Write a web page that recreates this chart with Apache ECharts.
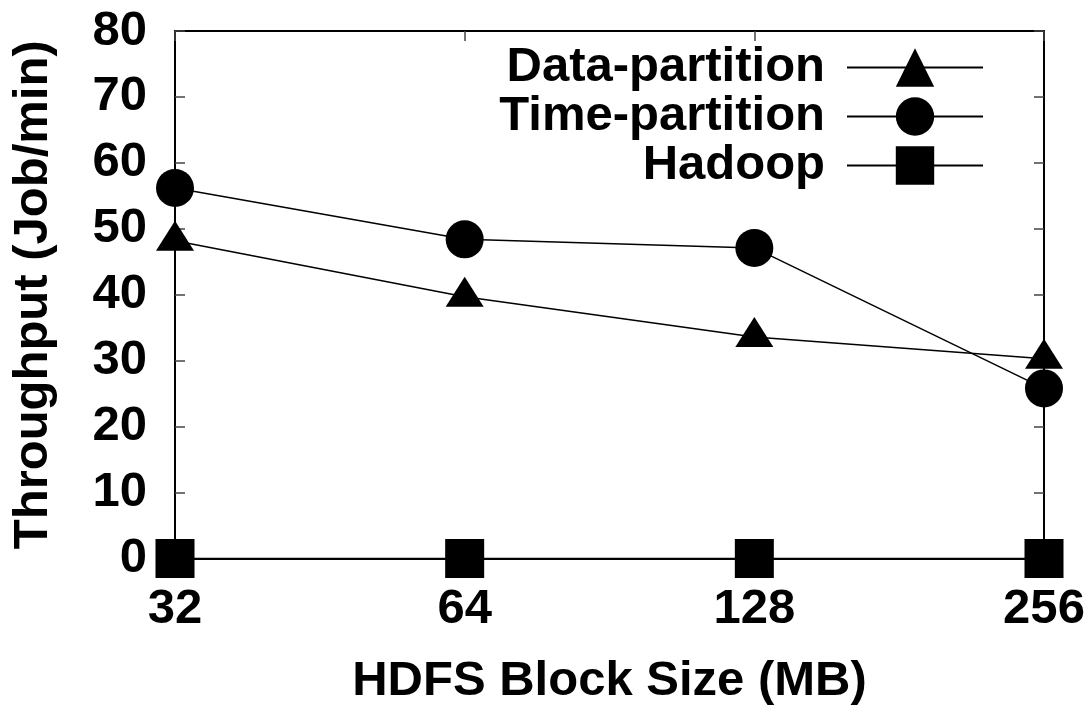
<!DOCTYPE html>
<html>
<head>
<meta charset="utf-8">
<script src="https://cdn.jsdelivr.net/npm/echarts@6/dist/echarts.min.js"></script>
<style>
  html, body { margin: 0; padding: 0; background: #fff; }
  #chart { width: 1085px; height: 705px; }
</style>
</head>
<body>
<div id="chart"></div>
<script>
// Throughput vs. HDFS block size
const blockSizes = ['32', '64', '128', '256'];
const dataPartition = [48.2, 39.7, 33.6, 30.3];
const timePartition = [56.2, 48.4, 47.1, 25.8];
const hadoop = [0, 0, 0, 0];
const yTicks = { min: 0, max: 80, step: 10 };

const FONT = '"Liberation Sans", Arial, Helvetica, sans-serif';
const textStyle = { fontFamily: FONT, fontWeight: 'bold', fontSize: 49, color: '#000' };

const axisLine = { show: true, onZero: false, lineStyle: { color: '#000', width: 2 } };
const tick = { show: true, inside: true, length: 10, lineStyle: { color: '#444', width: 1.5 } };

function lineSeries(name, values, symbol, size, offset) {
  return {
    name: name,
    type: 'line',
    data: values,
    symbol: symbol,
    symbolSize: size,
    symbolOffset: offset || [0, 0],
    showSymbol: true,
    clip: false,
    lineStyle: { color: '#000', width: 1.5 },
    itemStyle: { color: '#000' },
    emphasis: { disabled: true },
    z: 3
  };
}

const chart = echarts.init(document.getElementById('chart'), null, { renderer: 'canvas' });
chart.setOption({
  animation: false,
  backgroundColor: '#fff',
  grid: { left: 175, right: 41, top: 31, bottom: 146.5, containLabel: false, outerBoundsMode: 'none' },
  legend: {
    orient: 'vertical',
    right: 101,
    top: 43,
    padding: 0,
    align: 'right',
    itemWidth: 136,
    itemHeight: 48,
    itemGap: 0,
    selectedMode: false,
    textStyle: Object.assign({}, textStyle, { lineHeight: 48, padding: [0, 17, 0, 0] }),
    data: ['Data-partition', 'Time-partition', 'Hadoop']
  },
  xAxis: [
    {
      type: 'category',
      data: blockSizes,
      boundaryGap: false,
      position: 'bottom',
      axisLine: axisLine,
      axisTick: tick,
      axisLabel: Object.assign({}, textStyle, { margin: 26 }),
      splitLine: { show: false },
      name: 'HDFS Block Size (MB)',
      nameLocation: 'middle',
      nameGap: 98,
      nameTextStyle: textStyle
    },
    {
      type: 'category',
      data: blockSizes,
      boundaryGap: false,
      position: 'top',
      axisLine: axisLine,
      axisTick: tick,
      axisLabel: { show: false },
      splitLine: { show: false }
    }
  ],
  yAxis: [
    {
      type: 'value',
      min: yTicks.min,
      max: yTicks.max,
      interval: yTicks.step,
      position: 'left',
      axisLine: axisLine,
      axisTick: tick,
      axisLabel: Object.assign({}, textStyle, { margin: 28 }),
      splitLine: { show: false },
      name: 'Throughput (Job/min)',
      nameLocation: 'middle',
      nameGap: 117,
      nameTextStyle: textStyle
    },
    {
      type: 'value',
      min: yTicks.min,
      max: yTicks.max,
      interval: yTicks.step,
      position: 'right',
      axisLine: axisLine,
      axisTick: tick,
      axisLabel: { show: false },
      splitLine: { show: false }
    }
  ],
  series: [
    lineSeries('Data-partition', dataPartition, 'triangle', [38, 30], [0, -5]),
    lineSeries('Time-partition', timePartition, 'circle', 38),
    lineSeries('Hadoop', hadoop, 'rect', 39)
  ]
});
</script>
</body>
</html>
